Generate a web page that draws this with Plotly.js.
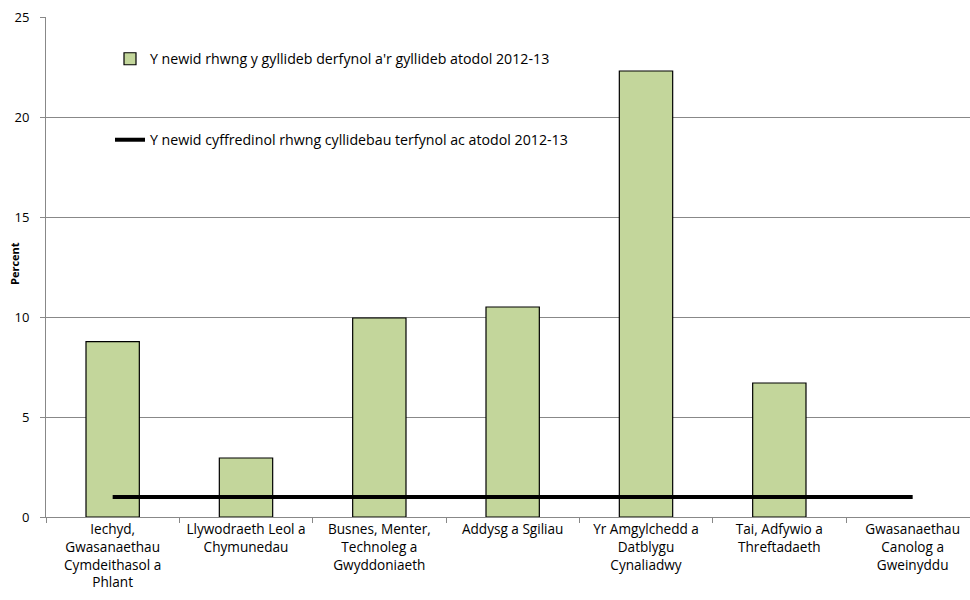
<!DOCTYPE html>
<html>
<head>
<meta charset="utf-8">
<script src="https://cdn.plot.ly/plotly-3.0.1.min.js"></script>
<style>html,body{margin:0;padding:0;background:#fff;}#chart{width:970px;height:600px;}</style>
</head>
<body>
<div id="chart"></div>
<script>
var categories = [
  "Iechyd,<br>Gwasanaethau<br>Cymdeithasol a<br>Phlant",
  "Llywodraeth Leol a<br>Chymunedau",
  "Busnes, Menter,<br>Technoleg a<br>Gwyddoniaeth",
  "Addysg a Sgiliau",
  "Yr Amgylchedd a<br>Datblygu<br>Cynaliadwy",
  "Tai, Adfywio a<br>Threftadaeth",
  "Gwasanaethau<br>Canolog a<br>Gweinyddu"
];
var barValues = [8.77, 2.95, 9.95, 10.5, 22.3, 6.7, null];
var lineValues = [1, 1, 1, 1, 1, 1, 1];
var barName = "Y newid rhwng y gyllideb derfynol a'r gyllideb atodol 2012-13";
var lineName = "Y newid cyffredinol rhwng cyllidebau terfynol ac atodol 2012-13";
var yTitle = "Percent";
var yTicks = [0, 5, 10, 15, 20, 25];

var font = "'Open Sans', Carlito, Calibri, sans-serif";

var L = 46, T = 17, PW = 924, PH = 500;

var traces = [
  {
    type: "bar", x: categories, y: barValues, name: barName,
    marker: {color: "#C3D69B", line: {color: "#000", width: 1.2}},
    legend: "legend"
  },
  {
    type: "scatter", mode: "lines", x: categories, y: lineValues, name: lineName,
    line: {color: "#000", width: 4},
    legend: "legend2"
  }
];

var layout = {
  width: 970, height: 600,
  margin: {l: L, r: 970 - L - PW, t: T, b: 600 - T - PH, autoexpand: false},
  paper_bgcolor: "#fff", plot_bgcolor: "#fff",
  font: {family: font, size: 12, color: "#000"},
  bargap: 0.6,
  xaxis: {
    type: "category",
    range: [-0.5, 6.43],
    showgrid: false,
    showline: true, linecolor: "#888", linewidth: 1,
    ticks: "outside", tickson: "boundaries", ticklen: 5, tickcolor: "#888",
    tickangle: 0,
    tickfont: {family: font, size: 13.6, color: "#000"},
    automargin: false,
    fixedrange: true
  },
  yaxis: {
    range: [0, 25],
    tickvals: yTicks,
    ticktext: yTicks.map(String),
    showgrid: true, gridcolor: "#888", gridwidth: 1,
    showline: true, linecolor: "#888", linewidth: 1,
    ticks: "outside", ticklen: 5, tickcolor: "#888",
    ticklabelstandoff: 8,
    zeroline: false,
    tickfont: {family: font, size: 13, color: "#000"},
    automargin: false,
    fixedrange: true
  },
  annotations: [{
    text: "<b>" + yTitle + "</b>",
    xref: "paper", yref: "paper",
    x: (14 - L) / PW, y: (T + PH - 264) / PH,
    xanchor: "center", yanchor: "middle",
    textangle: -90, showarrow: false,
    font: {family: font, size: 11, color: "#000"}
  }],
  showlegend: true,
  legend: {
    x: (110 - L) / PW, y: (T + PH - 59) / PH, xanchor: "left", yanchor: "middle",
    bgcolor: "rgba(0,0,0,0)", borderwidth: 0,
    font: {family: font, size: 14.2, color: "#000"}
  },
  legend2: {
    x: (110 - L) / PW, y: (T + PH - 140) / PH, xanchor: "left", yanchor: "middle",
    bgcolor: "rgba(0,0,0,0)", borderwidth: 0,
    font: {family: font, size: 14.2, color: "#000"}
  }
};

Plotly.newPlot("chart", traces, layout, {displayModeBar: false, staticPlot: true});
</script>
</body>
</html>
